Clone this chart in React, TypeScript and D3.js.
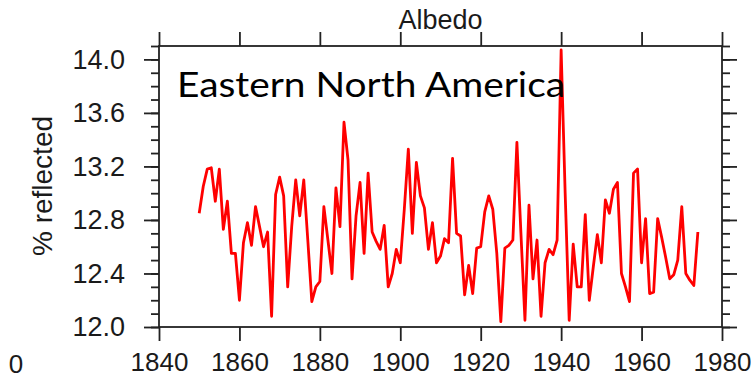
import React, { useEffect, useRef } from "react";
import * as d3 from "d3";

// annual albedo, Eastern North America
const firstYear = 1850;
const albedo = [
  12.85, 13.05, 13.18, 13.19, 12.94, 13.18, 12.73, 12.94, 12.55, 12.55,
  12.20, 12.63, 12.78, 12.61, 12.90, 12.75, 12.60, 12.71, 12.08, 12.99,
  13.12, 12.98, 12.30, 12.75, 13.10, 12.83, 13.10, 12.65, 12.19, 12.30,
  12.34, 12.90, 12.65, 12.40, 13.04, 12.75, 13.53, 13.25, 12.36, 12.83,
  13.08, 12.55, 13.15, 12.71, 12.64, 12.58, 12.76, 12.30, 12.40, 12.58,
  12.48, 12.88, 13.33, 12.70, 13.23, 12.98, 12.89, 12.58, 12.78, 12.48,
  12.53, 12.66, 12.63, 13.26, 12.70, 12.68, 12.24, 12.46, 12.25, 12.59,
  12.60, 12.86, 12.98, 12.88, 12.55, 12.04, 12.59, 12.61, 12.65, 13.38,
  12.70, 12.05, 12.91, 12.36, 12.65, 12.08, 12.48, 12.58, 12.54, 12.65,
  14.07, 13.00, 12.05, 12.62, 12.30, 12.30, 12.84, 12.20, 12.45, 12.69,
  12.48, 12.95, 12.85, 13.03, 13.08, 12.40, 12.30, 12.19, 13.15, 13.18,
  12.48, 12.81, 12.25, 12.26, 12.81, 12.67, 12.52, 12.36, 12.39, 12.50,
  12.90, 12.40, 12.35, 12.31, 12.71,
];

const yearTicks = [1840, 1860, 1880, 1900, 1920, 1940, 1960, 1980];
const pctTicks = [12.0, 12.4, 12.8, 13.2, 13.6, 14.0];
const pctMinor = d3.range(12.0, 14.15, 0.1);

const title = "Albedo";
const yLabel = "% reflected";
const regionLabel = "Eastern North America";

export default function App() {
  const ref = useRef<SVGSVGElement>(null);

  useEffect(() => {
    const svg = d3.select(ref.current);
    svg.selectAll("*").remove();

    const left = 159, right = 722, top = 46, bottom = 327;
    const font = "'Liberation Sans', Arial, Helvetica, sans-serif";
    const ink = "#222";

    const x = d3.scaleLinear().domain([1840, 1980]).range([left, right]);
    const y = d3.scaleLinear().domain([12.0, 14.1]).range([bottom, top]);

    // data line
    svg.append("path")
      .datum(albedo)
      .attr("fill", "none")
      .attr("stroke", "#ff0000")
      .attr("stroke-width", 2.8)
      .attr("stroke-linejoin", "round")
      .attr("d", d3.line<number>()
        .x((d, i) => x(firstYear + i))
        .y((d) => y(d)));

    // frame
    svg.append("rect")
      .attr("x", left).attr("y", top)
      .attr("width", right - left).attr("height", bottom - top)
      .attr("fill", "none").attr("stroke", ink).attr("stroke-width", 1.8);

    const styleAxis = (size: number) => (g: any) => {
      g.select(".domain").remove();
      g.attr("color", ink);
      g.selectAll("line").attr("stroke-width", 1.8);
      g.selectAll("text")
        .attr("font-family", font)
        .attr("font-size", size)
        .attr("fill", "#1a1a1a");
    };

    // y axis, left + right, minor then major
    const fmt = d3.format(".1f");
    svg.append("g").attr("transform", `translate(${left},0)`)
      .call(d3.axisLeft(y).tickValues(pctMinor).tickSize(8).tickFormat(() => ""))
      .call(styleAxis(27));
    svg.append("g").attr("transform", `translate(${left},0)`)
      .call(d3.axisLeft(y).tickValues(pctTicks).tickSize(15).tickPadding(19).tickFormat((d) => fmt(d as number)))
      .call(styleAxis(27));
    svg.append("g").attr("transform", `translate(${right},0)`)
      .call(d3.axisRight(y).tickValues(pctMinor).tickSize(8).tickFormat(() => ""))
      .call(styleAxis(27));
    svg.append("g").attr("transform", `translate(${right},0)`)
      .call(d3.axisRight(y).tickValues(pctTicks).tickSize(15).tickFormat(() => ""))
      .call(styleAxis(27));

    // x axis, bottom + top
    svg.append("g").attr("transform", `translate(0,${bottom})`)
      .call(d3.axisBottom(x).tickValues(yearTicks).tickSize(14).tickPadding(12).tickFormat((d) => String(d)))
      .call(styleAxis(26));
    svg.append("g").attr("transform", `translate(0,${top})`)
      .call(d3.axisTop(x).tickValues(yearTicks).tickSize(14).tickFormat(() => ""))
      .call(styleAxis(26));

    // stray label at bottom left
    svg.append("text")
      .attr("x", 16).attr("y", 373)
      .attr("text-anchor", "middle")
      .attr("font-family", font).attr("font-size", 26).attr("fill", "#1a1a1a")
      .text("0");

    // title
    svg.append("text")
      .attr("x", (left + right) / 2).attr("y", 29)
      .attr("text-anchor", "middle")
      .attr("font-family", font).attr("font-size", 27).attr("fill", "#1a1a1a")
      .text(title);

    // y label
    svg.append("text")
      .attr("transform", "translate(52,186) rotate(-90)")
      .attr("text-anchor", "middle")
      .attr("font-family", font).attr("font-size", 28).attr("fill", "#1a1a1a")
      .text(yLabel);

    // region label
    svg.append("text")
      .attr("x", 177).attr("y", 97)
      .attr("font-family", "Lato, Carlito, 'Open Sans', sans-serif")
      .attr("font-size", 35)
      .attr("textLength", 388)
      .attr("lengthAdjust", "spacingAndGlyphs")
      .attr("fill", "#000")
      .text(regionLabel);
  }, []);

  return (
    <div style={{ position: "absolute", left: 0, top: 0 }}>
      <svg ref={ref} width={751} height={384} style={{ display: "block", background: "#fff" }}></svg>
    </div>
  );
}
